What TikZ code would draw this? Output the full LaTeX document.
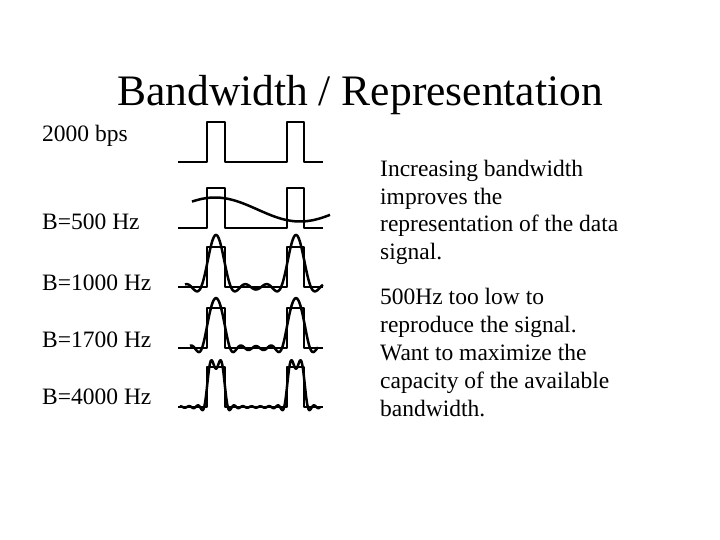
\documentclass[tikz,border=0pt]{standalone}
\usepackage{fontspec}
\setmainfont{Liberation Serif}
\begin{document}
\begin{tikzpicture}[x=1pt,y=-1pt,
  wave/.style={line width=2.5pt,line join=round},
  lbl/.style={anchor=west,font=\fontsize{23.5}{27}\selectfont,inner sep=0},
  declare function={cc(\n)=2*sin(\n*180*0.225)/(\n*pi); hh(\n,\x)=cc(\n)*cos(4.5*\n*(\x-216));}]
\useasboundingbox (0,0) rectangle (720,540);
\node (title) at (360,95) {\fontsize{43.5}{50}\selectfont Bandwidth / Representation};
\node[lbl] (l0) at (42,136) {2000 bps};
\node[lbl] (l1) at (42,222) {B=500 Hz};
\node[lbl] (l2) at (42,283) {B=1000 Hz};
\node[lbl] (l3) at (42,340) {B=1700 Hz};
\node[lbl] (l4) at (42,397) {B=4000 Hz};
\node[anchor=north west,align=left,inner sep=0,font=\fontsize{23.5}{27.5}\selectfont] (t1) at (380,160)
 {Increasing bandwidth\\improves the\\representation of the data\\signal.};
\node[anchor=north west,align=left,inner sep=0,font=\fontsize{23.5}{28}\selectfont] (t2) at (380,288)
 {500Hz too low to\\reproduce the signal.\\Want to maximize the\\capacity of the available\\bandwidth.};
\foreach \b in {162,228,287,348,407}
  \draw[wave] (178,\b) -- (207,\b) -- (207,\b-40) -- (225,\b-40) -- (225,\b) -- (287,\b) -- (287,\b-40) -- (304,\b-40) -- (304,\b) -- (323,\b);
\draw[wave] plot[domain=192:330,samples=80,smooth] (\x,{209.5-12*cos(2.1176*(\x-215))});
\draw[wave] plot[domain=185:323,samples=120,smooth] (\x,{287-46*(0.225+hh(1,\x)+hh(2,\x)+hh(3,\x))});
\draw[wave] plot[domain=190:318,samples=160,smooth] (\x,{348-44*(0.225+hh(1,\x)+hh(2,\x)+hh(3,\x)+hh(4,\x)+hh(5,\x))});
\draw[wave] plot[domain=180:320,samples=220,smooth] (\x,{407-42*(0.225+hh(1,\x)+hh(2,\x)+hh(3,\x)+hh(4,\x)+hh(5,\x)+hh(6,\x)+hh(7,\x)+hh(8,\x)+hh(9,\x))});
\end{tikzpicture}
\end{document}
